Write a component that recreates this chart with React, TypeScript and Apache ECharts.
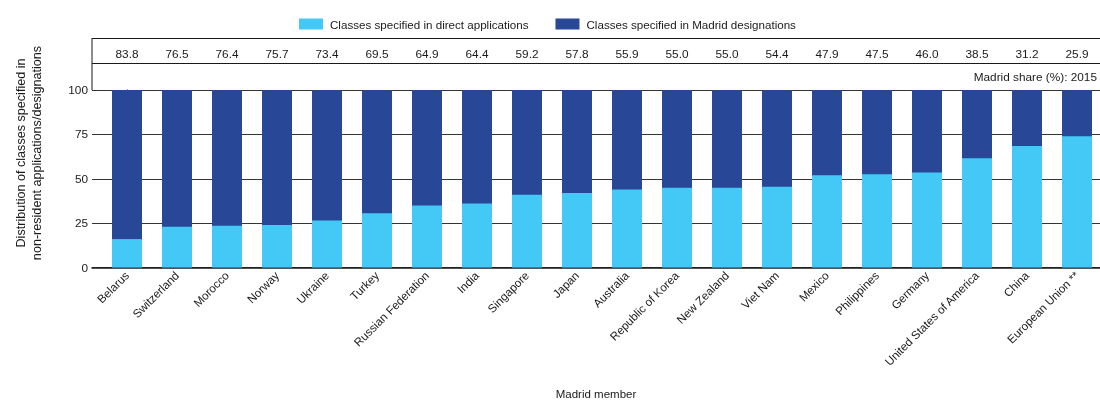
import React, { useEffect, useRef } from "react";
import * as echarts from "echarts";

const countries = [
  "Belarus", "Switzerland", "Morocco", "Norway", "Ukraine", "Turkey",
  "Russian Federation", "India", "Singapore", "Japan", "Australia",
  "Republic of Korea", "New Zealand", "Viet Nam", "Mexico", "Philippines",
  "Germany", "United States of America", "China", "European Union **",
];
const madridShare = [
  83.8, 76.5, 76.4, 75.7, 73.4, 69.5, 64.9, 64.4, 59.2, 57.8,
  55.9, 55.0, 55.0, 54.4, 47.9, 47.5, 46.0, 38.5, 31.2, 25.9,
];
const directClasses = [
  16.0, 23.0, 23.5, 24.0, 26.5, 30.5, 35.0, 36.0, 41.0, 42.0,
  44.0, 45.0, 45.0, 45.5, 52.0, 52.5, 53.5, 61.5, 68.5, 74.0,
];
const madridClasses = [
  84.0, 77.0, 76.5, 76.0, 73.5, 69.5, 65.0, 64.0, 59.0, 58.0,
  56.0, 55.0, 55.0, 54.5, 48.0, 47.5, 46.5, 38.5, 31.5, 26.0,
];

const FONT = "'Liberation Sans', Arial, sans-serif";
const LIGHT = "#44C8F6";
const DARK = "#284797";
const TXT = "#1a1a1a";

export default function App() {
  const ref = useRef<HTMLDivElement>(null);
  useEffect(() => {
    if (!ref.current) return;
    const chart = echarts.init(ref.current, undefined, { renderer: "svg" });
    const idx = countries.map((_, i) => i);
    chart.setOption({
      animation: false,
      textStyle: { fontFamily: FONT, color: TXT },
      legend: {
        left: 294,
        top: 13,
        itemWidth: 24,
        itemHeight: 11,
        itemGap: 27,
        icon: "rect",
        textStyle: { fontSize: 11.6, fontFamily: FONT, color: TXT, padding: [0, 0, 0, 2] },
        data: ["Classes specified in direct applications", "Classes specified in Madrid designations"],
      },
      grid: { left: 92, right: 0, top: 90, bottom: 133.5, containLabel: false },
      xAxis: [
        {
          type: "value",
          min: -0.7,
          max: 19.46,
          name: "Madrid member",
          nameLocation: "middle",
          nameGap: 120,
          nameTextStyle: { fontSize: 11.5, fontFamily: FONT, color: TXT },
          axisLine: { show: true, onZero: false, lineStyle: { color: TXT, width: 1.5 } },
          axisTick: { show: false },
          splitLine: { show: false },
          axisLabel: {
            customValues: idx,
            rotate: 45,
            margin: 6,
            fontSize: 11.6,
            fontFamily: FONT,
            color: TXT,
            formatter: (v: number) => countries[Math.round(v)] ?? "",
          },
        },
        {
          type: "value",
          min: -0.7,
          max: 19.46,
          position: "top",
          axisLine: { show: false },
          axisTick: { show: false },
          splitLine: { show: false },
          axisLabel: {
            customValues: idx,
            margin: 30,
            fontSize: 11.8,
            lineHeight: 12,
            fontFamily: FONT,
            color: TXT,
            formatter: (v: number) => {
              const s = madridShare[Math.round(v)];
              return s === undefined ? "" : s.toFixed(1);
            },
          },
        },
      ],
      yAxis: {
        type: "value",
        min: 0,
        max: 100,
        interval: 25,
        axisLine: { show: true, lineStyle: { color: TXT, width: 1 } },
        axisTick: { show: false },
        axisLabel: { fontSize: 11.8, margin: 4, fontFamily: FONT, color: TXT },
        splitLine: { show: true, lineStyle: { color: "#333", width: 1 } },
      },
      graphic: [
        { type: "line", shape: { x1: 92, y1: 38, x2: 92, y2: 90 }, style: { stroke: TXT, lineWidth: 1 } },
        { type: "line", shape: { x1: 92, y1: 38.5, x2: 1100, y2: 38.5 }, style: { stroke: TXT, lineWidth: 1 } },
        { type: "line", shape: { x1: 92, y1: 63.5, x2: 1100, y2: 63.5 }, style: { stroke: TXT, lineWidth: 1 } },
        {
          type: "text",
          x: 1097,
          y: 77,
          style: {
            text: "Madrid share (%): 2015",
            fontSize: 11.8,
            fontFamily: FONT,
            fill: TXT,
            align: "right",
            verticalAlign: "middle",
          },
        },
        {
          type: "text",
          x: 29,
          y: 153,
          rotation: Math.PI / 2,
          style: {
            text: "Distribution of classes specified in\nnon-resident applications/designations",
            fontSize: 12.6,
            lineHeight: 16,
            fontFamily: FONT,
            fill: TXT,
            align: "center",
            verticalAlign: "middle",
          },
        },
      ],
      series: [
        {
          name: "Classes specified in Madrid designations",
          type: "bar",
          barWidth: 30,
          itemStyle: { color: DARK },
          data: madridClasses.map((v, i) => [i, v + directClasses[i]]),
        },
        {
          name: "Classes specified in direct applications",
          type: "bar",
          barWidth: 30,
          barGap: "-100%",
          itemStyle: { color: LIGHT },
          data: directClasses.map((v, i) => [i, v]),
        },
      ],
    });
    return () => chart.dispose();
  }, []);
  return (
    <div
      ref={ref}
      style={{ position: "fixed", left: 0, top: 0, width: 1100, height: 401 }}
    />
  );
}
